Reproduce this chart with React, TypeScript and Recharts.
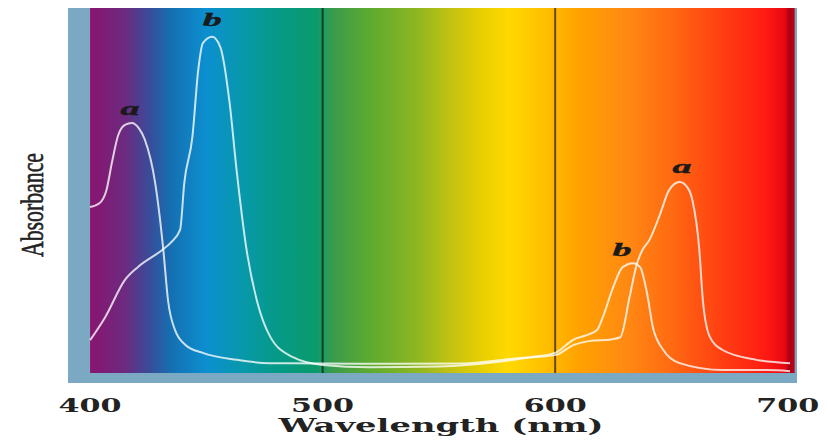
import {
  ComposedChart,
  Line,
  XAxis,
  YAxis,
  ReferenceArea,
  ReferenceLine,
  ReferenceDot,
} from 'recharts';

// chlorophyll a absorbance (arbitrary units, 0-100) against wavelength
const chlANm = [
  400, 404, 407, 409.5, 412, 415, 418, 421, 423.5, 428, 431.5, 433.5, 436.5, 441, 448.5, 463, 477,
  500, 530, 560, 585, 600, 608, 615, 624, 628, 632, 635, 637.5, 640.5, 645, 649, 653.5, 657, 659,
  662, 663.5, 666.5, 672, 686.5, 701,
];
const chlAAbs = [
  45.5, 46.5, 50, 58, 65, 68, 68.5, 67, 64, 52, 33.7, 20, 11.8, 7.7, 5.5, 3.6, 2.7,
  2.6, 2.5, 2.6, 4.1, 4.9, 7.7, 8.8, 9.2, 9.8, 20.8, 29.6, 33.7, 36.4, 43.3, 50.1, 52.3, 50.7, 47.4,
  33.7, 20, 9.9, 6.3, 3.6, 2.7,
];

// chlorophyll b
const chlBNm = [
  400, 406.5, 415, 420.5, 431, 434.5, 438.7, 440.5, 444, 446.5, 448.5, 452.5, 456, 460, 463,
  467.5, 472, 477.5, 487, 500, 520, 550, 575, 590, 600, 607.5, 618, 620.5, 625, 629, 633.5, 636.5,
  639.5, 642, 646.5, 653.5, 672, 691, 701,
];
const chlBAbs = [
  9, 15.3, 25.5, 29, 33.7, 35.6, 39.2, 52, 64.7, 83, 90.4, 92.1, 89.3, 74, 55.6,
  32.9, 19.2, 9.9, 4.4, 2.2, 1.6, 1.8, 3, 4.4, 5.5, 9, 11.8, 15.3, 23.6, 29, 30.1, 29,
  21.9, 12.6, 6.3, 2.7, 0.8, 0.8, 0.5,
];

const xTicks = [400, 500, 600, 700];
const dividers = [500, 600];

// curve labels: text, wavelength, absorbance
const peakText = ['a', 'b', 'b', 'a'];
const peakNm = [417.2, 452.5, 628.8, 654.6];
const peakAbs = [72.1, 96.4, 33.4, 56.2];

// background spectrum colours
const spectrumNm = [400, 415, 425, 435, 450, 465, 480, 497, 505, 520, 540, 555, 570, 580, 595, 610, 630, 650, 670, 690, 699, 700.5, 703];
const spectrumColor = [
  '#8a1470', '#6c2a80', '#3c4a98', '#1470b2', '#0c8fd0', '#0898ac', '#059a88', '#0a9a6c',
  '#3c9c4a', '#5caa30', '#8cb622', '#c2c212', '#ecd000', '#ffd800', '#ffc000', '#ffa200',
  '#ff8a12', '#ff6a12', '#ff4212', '#ff1c12', '#e80612', '#a80012', '#c4001a',
];

const aData = chlANm.map((nm, i) => ({ nm, v: chlAAbs[i] }));
const bData = chlBNm.map((nm, i) => ({ nm, v: chlBAbs[i] }));

const SERIF = '"DejaVu Serif", serif';

function Tick(props: any) {
  const { x, payload } = props;
  return (
    <text
      x={x}
      y={412}
      textAnchor="middle"
      fontFamily={SERIF}
      fontWeight="bold"
      fontSize={19}
      fill="#222"
      textLength={63}
      lengthAdjust="spacingAndGlyphs"
    >
      {payload.value}
    </text>
  );
}

function XLabel() {
  return (
    <text
      x={441}
      y={432}
      textAnchor="middle"
      fontFamily={SERIF}
      fontWeight="bold"
      fontSize={19}
      fill="#222"
      textLength={325}
      lengthAdjust="spacingAndGlyphs"
    >
      Wavelength (nm)
    </text>
  );
}

export default function App() {
  return (
    <div style={{ position: 'absolute', left: 0, top: 0, width: 827, height: 444, background: '#fff' }}>
      <ComposedChart width={827} height={444} margin={{ top: 8, right: 30, bottom: 0, left: 68 }}>
        <defs>
          <linearGradient id="spectrum" x1="0" y1="0" x2="1" y2="0">
            {spectrumNm.map((nm, i) => (
              <stop key={nm} offset={(nm - 400) / 303} stopColor={spectrumColor[i]} />
            ))}
          </linearGradient>
        </defs>
        <XAxis
          dataKey="nm"
          type="number"
          domain={[390.5, 704]}
          ticks={xTicks}
          allowDataOverflow
          height={61}
          axisLine={false}
          tickLine={false}
          tick={<Tick />}
          label={{ value: 'Wavelength (nm)', content: <XLabel /> }}
        />
        <YAxis
          type="number"
          domain={[-2.74, 100]}
          allowDataOverflow
          width={0}
          tick={false}
          axisLine={false}
          tickLine={false}
        />
        <ReferenceArea x1={390.5} x2={704} y1={-2.74} y2={100} fill="#7ba9c4" fillOpacity={1} stroke="none" />
        <ReferenceArea x1={400} x2={703} y1={0} y2={100} fill="url(#spectrum)" fillOpacity={1} stroke="none" />
        {dividers.map((nm) => (
          <ReferenceLine
            key={nm}
            segment={[{ x: nm, y: 0 }, { x: nm, y: 100 }]}
            stroke="#000"
            strokeOpacity={0.6}
            strokeWidth={2}
          />
        ))}
        <Line
          data={aData}
          dataKey="v"
          type="monotone"
          stroke="#fff"
          strokeOpacity={0.78}
          strokeWidth={2}
          dot={false}
          activeDot={false}
          isAnimationActive={false}
        />
        <Line
          data={bData}
          dataKey="v"
          type="monotone"
          stroke="#fff"
          strokeOpacity={0.78}
          strokeWidth={2}
          dot={false}
          activeDot={false}
          isAnimationActive={false}
        />
        {peakText.map((t, i) => (
          <ReferenceDot
            key={i}
            x={peakNm[i]}
            y={peakAbs[i]}
            r={0}
            shape={(p: any) => (
              <text
                x={p.cx}
                y={p.cy + 5}
                textAnchor="middle"
                fontFamily='"Liberation Serif", serif'
                fontStyle="italic"
                fontWeight="bold"
                fontSize={18}
                fill="#1a1a1a"
                stroke="#1a1a1a"
                strokeWidth={0.4}
                textLength={19}
                lengthAdjust="spacingAndGlyphs"
              >
                {t}
              </text>
            )}
          />
        ))}
      </ComposedChart>
      <svg width={60} height={444} style={{ position: 'absolute', left: 0, top: 0 }}>
        <text
          x={43}
          y={205}
          transform="rotate(-90, 43, 205)"
          textAnchor="middle"
          fontFamily='"Liberation Serif", serif'
          fontSize={32}
          fill="#222"
          stroke="#222"
          strokeWidth={0.6}
          textLength={104}
          lengthAdjust="spacingAndGlyphs"
        >
          Absorbance
        </text>
      </svg>
    </div>
  );
}
